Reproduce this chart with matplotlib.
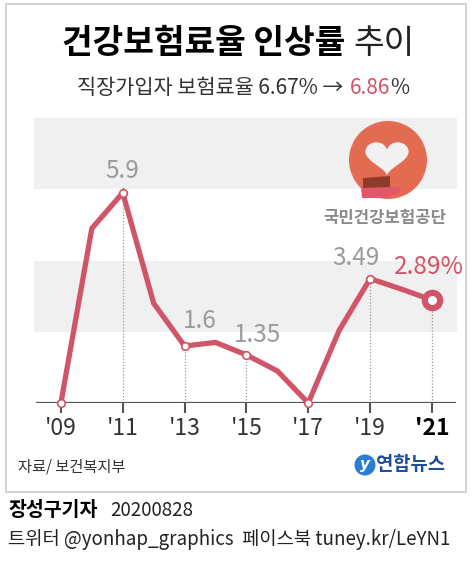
import numpy as np
import matplotlib
matplotlib.use("Agg")
import matplotlib.pyplot as plt
from matplotlib.patches import Rectangle, Circle, Polygon

plt.rcParams['font.family'] = ['Noto Sans CJK KR', 'DejaVu Sans']

# data: annual health insurance rate increase (%)
years = [2009, 2010, 2011, 2012, 2013, 2014, 2015, 2016, 2017, 2018, 2019, 2020, 2021]
rates = [0.0, 4.9, 5.9, 2.8, 1.6, 1.7, 1.35, 0.9, 0.0, 2.04, 3.49, 3.2, 2.89]
tick_years = [2009, 2011, 2013, 2015, 2017, 2019, 2021]
tick_labels = ["'09", "'11", "'13", "'15", "'17", "'19", "'21"]
label_years = [2011, 2013, 2015, 2019]
label_texts = ["5.9", "1.6", "1.35", "3.49"]

W, H = 473, 567
RED = '#d05568'
GRAY = '#9b9b9b'

fig = plt.figure(figsize=(W / 100, H / 100), dpi=100)
fig.patch.set_facecolor('white')


def pixel_axes(z):
    a = fig.add_axes([0, 0, 1, 1], zorder=z)
    a.set_xlim(0, W)
    a.set_ylim(H, 0)
    a.axis('off')
    a.patch.set_alpha(0)
    return a


# back overlay for frame and texts, front overlay for logo
deco = pixel_axes(0)
front = pixel_axes(5)
deco.add_patch(Rectangle((6, 4), 460, 488, fill=False, ec='#cfcfcf', lw=1.3))

# chart
ax = fig.add_axes([34 / W, 1 - 403 / H, 423 / W, 285 / H], zorder=2)
ax.patch.set_alpha(0)
ax.set_xlim(2008.13, 2021.81)
ax.set_ylim(0, 8)
for s in ax.spines.values():
    s.set_visible(False)
ax.axhspan(2, 4, color='#f0f0f0', lw=0, zorder=0)
ax.axhspan(6, 8, color='#f0f0f0', lw=0, zorder=0)
ax.axhline(0, xmin=0.007, xmax=0.995, color='#555555', lw=1.6, zorder=2)

for yr in tick_years:
    v = rates[years.index(yr)]
    if v > 0:
        ax.vlines(yr, 0, v, colors='#9a9a9a', linestyles=(0, (1, 1.5)), lw=0.9, zorder=1)

ax.plot(years, rates, color=RED, lw=3.8, solid_joinstyle='miter', zorder=3, clip_on=False)
mk = [years.index(y) for y in tick_years[:-1]]
ax.plot([years[i] for i in mk], [rates[i] for i in mk], ls='none', marker='o', ms=5.5,
        mfc='white', mec=RED, mew=1.2, zorder=4, clip_on=False)
ax.plot([years[-1]], [rates[-1]], ls='none', marker='o', ms=11, mfc='white', mec=RED,
        mew=4.5, zorder=4, clip_on=False)

offsets = [(0, 16), (11, 18), (8, 14), (-10, 15)]
for yr, txt, off in zip(label_years, label_texts, offsets):
    ax.annotate(txt, xy=(yr, rates[years.index(yr)]), xytext=off, textcoords='offset points',
                ha='center', va='center', fontsize=17.5, color=GRAY)
ax.annotate('%.2f%%' % rates[-1], xy=(years[-1], rates[-1]), xytext=(-2, 24),
            textcoords='offset points', ha='center', va='center', fontsize=17.5, color=RED)

ax.set_yticks([])
ax.set_xticks(tick_years)
ax.set_xticklabels(tick_labels, fontsize=16.5, color='#333333')
ax.get_xticklabels()[-1].set_fontweight('bold')
ax.get_xticklabels()[-1].set_color('black')
ax.tick_params(axis='x', length=7, width=1.5, color='#555555', pad=3)

# NHIS logo
front.add_patch(Circle((388, 160), 39, color='#e36b52', lw=0, zorder=2))
t = np.linspace(0, 2 * np.pi, 200)
hx = 16 * np.sin(t) ** 3
hy = 13 * np.cos(t) - 5 * np.cos(2 * t) - 2 * np.cos(3 * t) - np.cos(4 * t)
front.add_patch(Polygon(np.column_stack([387 + hx * 1.35, 156 - hy * 1.15]), closed=True,
                        color='#f1f1f1', lw=0, zorder=3))
front.add_patch(Polygon([(361, 187), (402, 187), (398, 193), (385, 198), (362, 198)], closed=True,
                        color='#e2586a', lw=0, zorder=4))
front.add_patch(Polygon([(363, 178), (390, 176), (390, 187), (363, 188)], closed=True,
                        color='#8e3b2a', lw=0, zorder=5))
front.text(385, 218, '국민건강보험공단', ha='center', va='center', fontsize=12,
           color='#8a8a8a', fontweight='bold')

# Yonhap logo
deco.add_patch(Circle((365, 465), 10.5, color='#2a7dd2', lw=0))
deco.text(365, 465, 'y', ha='center', va='center', fontsize=11, color='white',
          fontweight='bold', style='italic', family='DejaVu Sans')
deco.text(376, 465, '연합뉴스', ha='left', va='center', fontsize=13.5, color='#1f4e9c',
          fontweight='bold')

deco.text(18, 467, '자료/ 보건복지부', ha='left', va='center', fontsize=11, color='#333333')

# title and subtitle
renderer = fig.canvas.get_renderer()


def draw_pieces(pieces, xc, y, size):
    texts = []
    for s, color, weight, gap in pieces:
        tx = deco.text(0, y, s, ha='left', va='center', fontsize=size, color=color,
                       fontweight=weight)
        texts.append((tx, gap))
    widths = [tx.get_window_extent(renderer).width + gap for tx, gap in texts]
    x = xc - sum(widths) / 2
    for (tx, gap), w in zip(texts, widths):
        tx.set_x(x)
        x += w


draw_pieces([('건강보험료율 인상률', 'black', 'bold', 8), ('추이', '#222222', 'normal', 0)],
            238, 43, 24)
draw_pieces([('직장가입자 보험료율 6.67% →', '#333333', 'normal', 6),
             ('6.86', RED, 'normal', 0), ('%', '#333333', 'normal', 0)], 243, 88, 15)

# byline below frame
deco.text(8, 510, '장성구기자', ha='left', va='center', fontsize=14, color='black',
          fontweight='bold')
deco.text(110, 510, '20200828', ha='left', va='center', fontsize=13.5, color='#222222')
deco.text(8, 540, '트위터 @yonhap_graphics  페이스북 tuney.kr/LeYN1', ha='left', va='center',
          fontsize=13.5, color='#222222')

fig.savefig('out.png', dpi=100)
